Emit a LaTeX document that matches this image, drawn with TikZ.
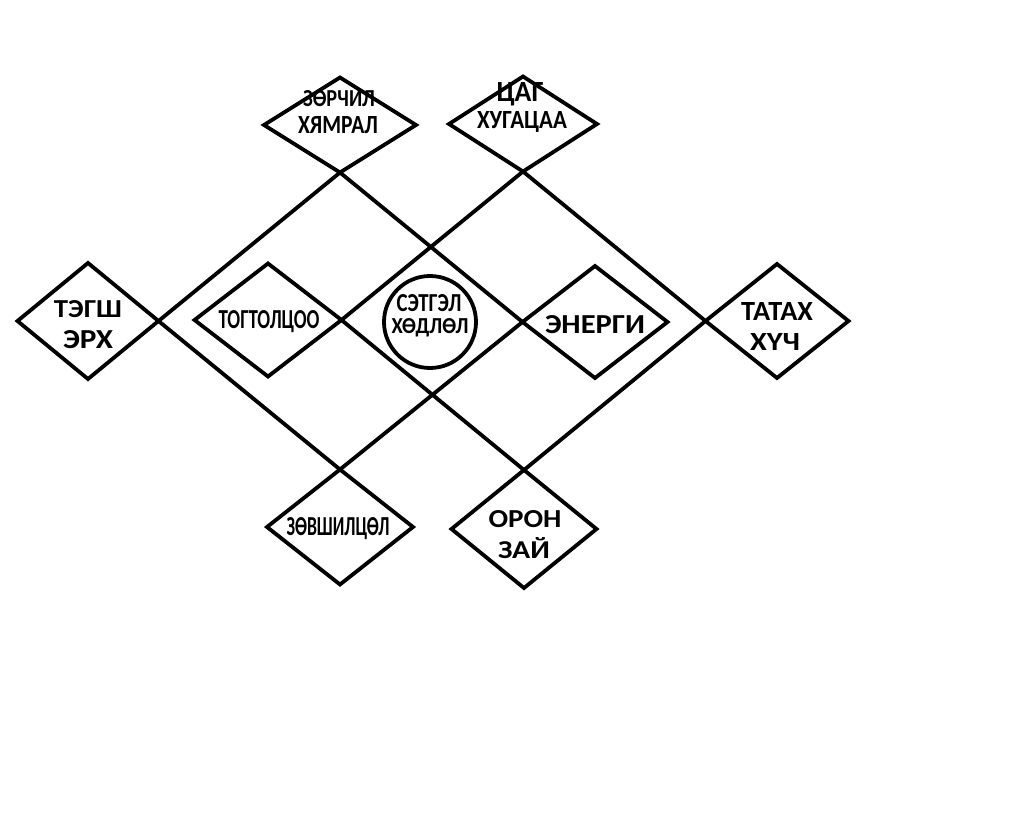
\documentclass[tikz,border=0pt]{standalone}
\usepackage{fontspec}
\setmainfont{Carlito}
\usetikzlibrary{shapes.geometric}
\newcommand\tx[3]{\resizebox{#1pt}{#2pt}{\bfseries #3}}
\tikzset{
  dia/.style={shape=diamond, draw, line width=3.8pt, inner sep=0pt, outer sep=0pt, fill=white},
  lbl/.style={inner sep=0pt, outer sep=0pt, anchor=base},
  link/.style={line width=3.8pt, line join=miter}
}
\begin{document}
\begin{tikzpicture}[x=1pt,y=-1pt]
\useasboundingbox[fill=white] (0,0) rectangle (1024,829);
% diamonds
\node[dia, minimum width=152pt, minimum height=95pt] (zor) at (340,125) {};
\node[dia, minimum width=148pt, minimum height=95pt] (tsag) at (523,124) {};
\node[dia, minimum width=141pt, minimum height=116pt] (tegsh) at (88,321) {};
\node[dia, minimum width=147pt, minimum height=113pt] (togt) at (268,320) {};
\node[dia, minimum width=145pt, minimum height=112pt] (energ) at (595,322) {};
\node[dia, minimum width=143pt, minimum height=114pt] (tatah) at (777,321) {};
\node[dia, minimum width=146pt, minimum height=115pt] (zovsh) at (340,527) {};
\node[dia, minimum width=145pt, minimum height=118pt] (oron) at (524,529) {};
\node[circle, draw, line width=3.8pt, fill=white, minimum size=92pt, inner sep=0pt] (setgel) at (430,322) {};
% connectors
\draw[link] (zor.south) -- (tegsh.east) -- (zovsh.north) -- (energ.west) -- cycle;
\draw[link] (tsag.south) -- (togt.east) -- (oron.north) -- (tatah.west) -- cycle;
% labels
\node[lbl] (zorA) at (339,107) {\tx{72}{16}{ЗӨРЧИЛ}};
\node[lbl] (zorB) at (338,134) {\tx{80}{17}{ХЯМРАЛ}};
\node[lbl] (tsagA) at (520,102) {\tx{47}{19}{ЦАГ}};
\node[lbl] (tsagB) at (522,129) {\tx{90}{17}{ХУГАЦАА}};
\node[lbl] (tegshA) at (88,317) {\tx{68}{17}{ТЭГШ}};
\node[lbl] (tegshB) at (88,348) {\tx{50}{18}{ЭРХ}};
\node[lbl] (togtA) at (269,328) {\tx{101}{18}{ТОГТОЛЦОО}};
\node[lbl] (energA) at (595,333) {\tx{100}{18}{ЭНЕРГИ}};
\node[lbl] (tatahA) at (777,320) {\tx{72}{18}{ТАТАХ}};
\node[lbl] (tatahB) at (775,350) {\tx{50}{17}{ХҮЧ}};
\node[lbl] (zovshA) at (338,535) {\tx{103}{18}{ЗӨВШИЛЦӨЛ}};
\node[lbl] (oronA) at (525,527) {\tx{73}{17}{ОРОН}};
\node[lbl] (oronB) at (524,558) {\tx{52}{21}{ЗАЙ}};
\node[lbl] (setgelA) at (429,311) {\tx{65}{17}{СЭТГЭЛ}};
\node[lbl] (setgelB) at (430,333) {\tx{77}{15}{ХӨДЛӨЛ}};
\end{tikzpicture}
\end{document}
